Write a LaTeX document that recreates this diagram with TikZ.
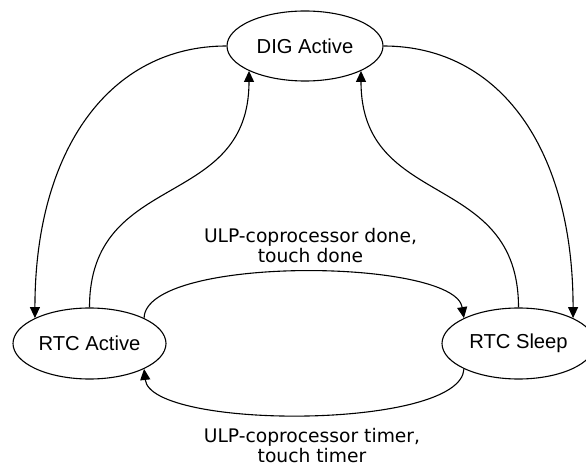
\documentclass[tikz,border=0pt]{standalone}
\usepackage{fontspec}
\setmainfont{Liberation Sans}
\newfontfamily\edgefont{DejaVu Sans}
\usepackage{tikz}
\usetikzlibrary{arrows.meta,shapes.geometric}
\tikzset{
  statenode/.style={draw,ellipse,line width=1.1pt,inner sep=0pt,
                    font=\fontsize{20.2}{24}\selectfont},
  trans/.style    ={-{Triangle[length=11pt,width=10pt]},line width=1.1pt},
  lbl/.style      ={font=\edgefont\fontsize{18.7}{20}\selectfont,
                    align=center,inner sep=0pt},
}

\begin{document}
\begin{tikzpicture}[x=1pt,y=-1pt]
\useasboundingbox (0,0) rectangle (586,470);
% states
\node[statenode,minimum width=156pt,minimum height=70pt] (dig) at (305,46) {DIG Active};
\node[statenode,minimum width=153pt,minimum height=71pt] (ra) at (89.5,343.5) {RTC Active};
\node[statenode,minimum width=153pt,minimum height=71pt] (rs) at (518.5,343.5) {RTC Sleep};
% wake / sleep between digital and rtc
\draw[trans] (dig.west) .. controls +(-117,0) and +(0,-168) .. (ra.155);
\draw[trans] (ra.north) .. controls +(0,-138) and +(0,140) .. (dig.204);
\draw[trans] (dig.east) .. controls +(117,0) and +(0,-168) .. (rs.25);
\draw[trans] (rs.north) .. controls +(0,-138) and +(0,140) .. (dig.336);
% rtc active <-> rtc sleep
\draw[trans] (ra.25) .. controls +(1.6,-63) and +(-9.6,-60) .. (rs.155);
\draw[trans] (rs.205) .. controls +(-2.6,61) and +(6.6,61) .. (ra.335);
\node[lbl] (done) at (310.5,245.8) {ULP-coprocessor done,\\touch done};
\node[lbl] (timer) at (312,445.3) {ULP-coprocessor timer,\\touch timer};
\end{tikzpicture}
\end{document}
